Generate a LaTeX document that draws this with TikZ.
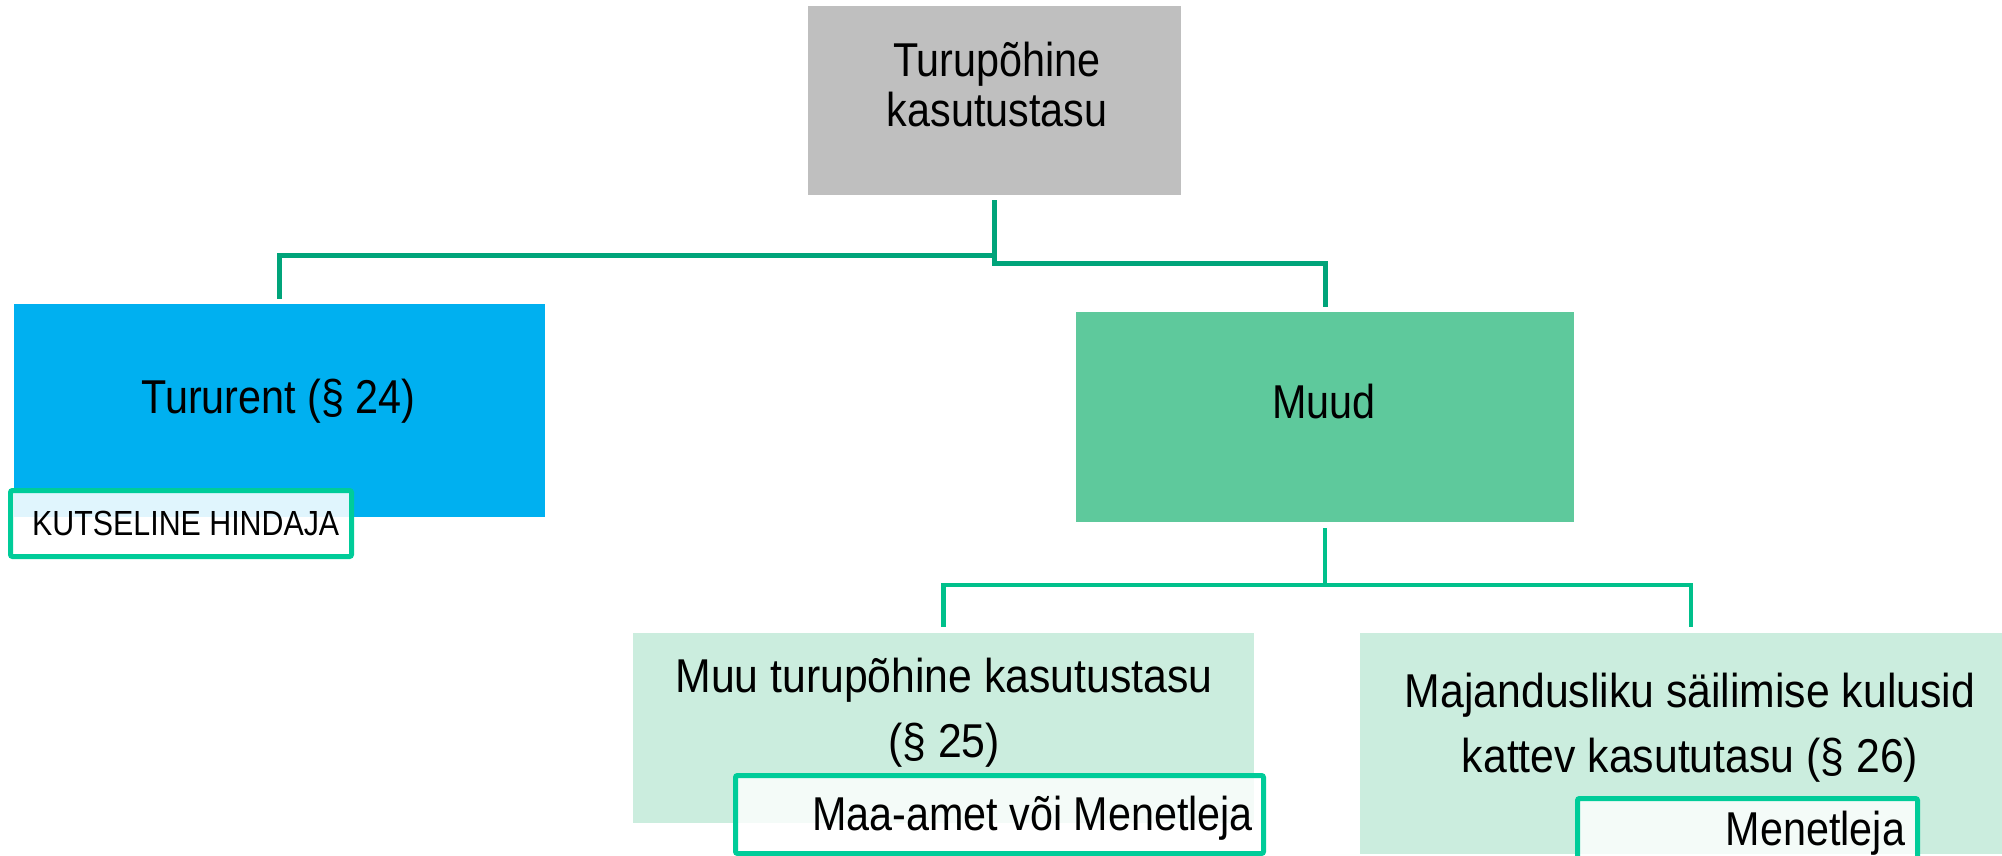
\documentclass[tikz,border=0pt]{standalone}
\usepackage{fontspec}
\setmainfont[FakeStretch=0.87]{Liberation Sans}
\newfontfamily\widef[FakeStretch=0.90]{Liberation Sans}
\newcommand\twoline[2]{\vtop{\halign{\hfil##\hfil\cr #1\cr #2\cr}}}
\definecolor{cgrey}{HTML}{BFBFBF}
\definecolor{cblue}{HTML}{00B0F0}
\definecolor{cmid}{HTML}{5EC99C}
\definecolor{clight}{HTML}{CBEDDE}
\definecolor{cline1}{HTML}{00A47A}
\definecolor{cline2}{HTML}{00C08B}
\definecolor{cframe}{HTML}{00CC99}
\begin{document}
\begin{tikzpicture}[x=1pt,y=-1pt,
  box/.style={rectangle, inner sep=0pt, outer sep=0pt},
  tag/.style={rectangle, draw=cframe, line width=5pt, fill=white, rounded corners=2pt, inner sep=0pt, outer sep=0pt},
  txt/.style={inner sep=0pt, outer sep=0pt, font=\fontsize{47.5}{50}\selectfont},
  wtxt/.style={inner sep=0pt, outer sep=0pt, font=\widef\fontsize{47.5}{65}\selectfont},
  conn1/.style={draw=cline1, line width=5pt, shorten <=5pt, shorten >=5pt},
  conn2/.style={draw=cline2, line width=4.5pt, shorten <=6pt, shorten >=6pt}]
\path[use as bounding box] (0,0) rectangle (2002,856);
\clip (0,0) rectangle (2002,856);
% main boxes
\node[box, fill=cgrey, minimum width=373pt, minimum height=189pt] (top) at (994.5,100.5) {};
\node[box, fill=cblue, minimum width=531pt, minimum height=213pt] (blue) at (279.5,410.5) {};
\node[box, fill=cmid, minimum width=498pt, minimum height=210pt] (muud) at (1325,417) {};
\node[box, fill=clight, minimum width=621pt, minimum height=190pt] (muu) at (943.5,728) {};
\node[box, fill=clight, minimum width=662pt, minimum height=221pt] (maj) at (1691,743.5) {};
% connectors
\draw[conn1] (top.south) -- ++(0,60.5) -| (blue.north);
\draw[conn1] (top.south) -- ++(0,68) -| (muud.north);
\draw[conn2] (muud.south) -- ++(0,63) -| (muu.north);
\draw[conn2] (muud.south) -- ++(0,63) -| (maj.north);
% texts
\node[txt, anchor=base] (ttop) at (997,76.7) {\twoline{Turupõhine}{kasutustasu}};
\node[txt, anchor=base] (tblue) at (278.5,413) {Tururent (§ 24)};
\node[txt, anchor=base] (tmuud) at (1324,418) {Muud};
\node[wtxt, anchor=base] (tmuu) at (944,692) {\twoline{Muu turupõhine kasutustasu}{(§ 25)}};
\node[wtxt, anchor=base] (tmaj) at (1690,707) {\twoline{Majandusliku säilimise kulusid}{kattev kasututasu (§ 26)}};
% tag boxes
\node[tag, fill opacity=0.88, minimum width=341pt, minimum height=66pt] (hind) at (181,523.5) {};
\node[tag, fill opacity=0.8, minimum width=528pt, minimum height=78pt] (maa) at (999.5,814.5) {};
\node[tag, fill opacity=0.8, minimum width=340pt, minimum height=82pt] (men) at (1747.5,839.5) {};
\node[inner sep=0pt, anchor=base west, font=\fontsize{34.9}{40}\selectfont] (thind) at (32,535) {KUTSELINE HINDAJA};
\node[txt, anchor=base east] (tmaa) at (1253,830) {Maa-amet või Menetleja};
\node[txt, anchor=base east] (tmen) at (1905,845) {Menetleja};
\end{tikzpicture}
\end{document}
